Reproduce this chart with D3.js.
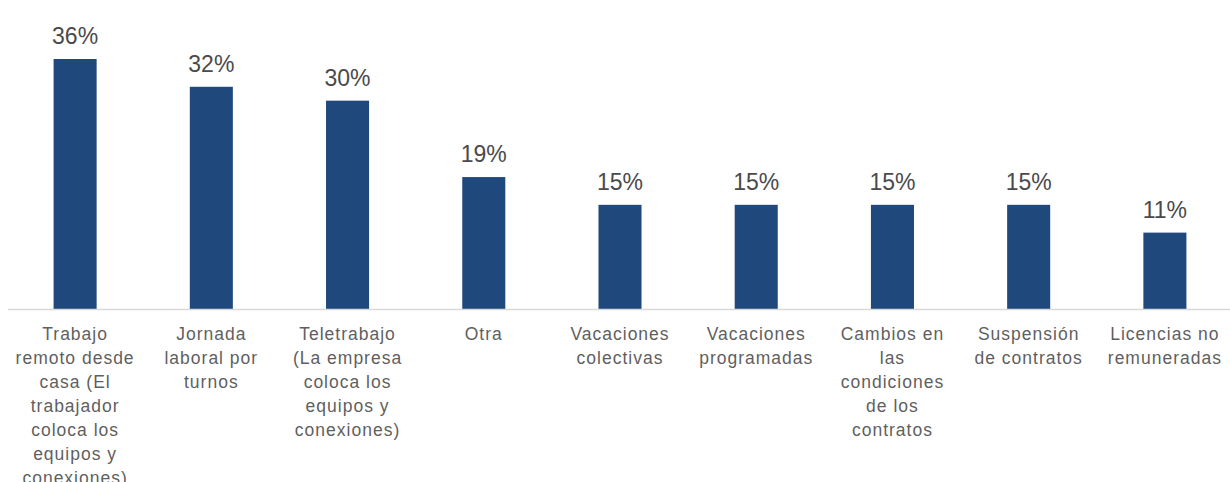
<!DOCTYPE html>
<html>
<head>
<meta charset="utf-8">
<script src="https://cdn.jsdelivr.net/npm/d3@7"></script>
<style>
  html, body { margin: 0; padding: 0; background: #fff; }
  svg { display: block; }
</style>
</head>
<body>
<svg id="chart" width="1230" height="482"></svg>
<script>
// Category labels (line breaks mark how each label wraps under its bar)
const categories = [
  "Trabajo\nremoto desde\ncasa (El\ntrabajador\ncoloca los\nequipos y\nconexiones)",
  "Jornada\nlaboral por\nturnos",
  "Teletrabajo\n(La empresa\ncoloca los\nequipos y\nconexiones)",
  "Otra",
  "Vacaciones\ncolectivas",
  "Vacaciones\nprogramadas",
  "Cambios en\nlas\ncondiciones\nde los\ncontratos",
  "Suspensión\nde contratos",
  "Licencias no\nremuneradas"
];
// Share of companies (%)
const values = [36, 32, 30, 19, 15, 15, 15, 15, 11];

const svg = d3.select("#chart");
const baseline = 309;

const x = d3.scaleBand()
  .domain(categories)
  .range([7, 1233])
  .paddingInner(0.684)
  .paddingOuter(0.342);

const y = d3.scaleLinear()
  .domain([0, 36])
  .range([baseline, 59]);

// Bars
svg.append("g")
  .selectAll("rect")
  .data(values)
  .join("rect")
  .attr("x", (d, i) => x(categories[i]))
  .attr("y", d => y(d))
  .attr("width", x.bandwidth())
  .attr("height", d => baseline - y(d))
  .attr("fill", "#1F497D");

// Category axis line
svg.append("line")
  .attr("x1", 8).attr("x2", 1230)
  .attr("y1", baseline + 0.5).attr("y2", baseline + 0.5)
  .attr("stroke", "#d9d9d9")
  .attr("stroke-width", 1.5);

// Value labels
svg.append("g")
  .selectAll("text")
  .data(values)
  .join("text")
  .attr("x", (d, i) => x(categories[i]) + x.bandwidth() / 2)
  .attr("y", d => y(d) - 15)
  .attr("text-anchor", "middle")
  .attr("font-family", "Liberation Sans, Arial, sans-serif")
  .attr("font-size", 23)
  .attr("fill", "#4a4a4a")
  .text(d => d + "%");

// Category labels
const labels = svg.append("g")
  .selectAll("text")
  .data(categories)
  .join("text")
  .attr("x", d => x(d) + x.bandwidth() / 2)
  .attr("y", 340)
  .attr("text-anchor", "middle")
  .attr("font-family", "Liberation Sans, Arial, sans-serif")
  .attr("font-size", 17.5)
  .attr("letter-spacing", 1)
  .attr("fill", "#5f5f5f");

labels.each(function (d) {
  const t = d3.select(this);
  const cx = x(d) + x.bandwidth() / 2;
  d.split("\n").forEach((line, k) => {
    t.append("tspan")
      .attr("x", cx)
      .attr("dy", k === 0 ? 0 : 24)
      .text(line);
  });
});
</script>
</body>
</html>
